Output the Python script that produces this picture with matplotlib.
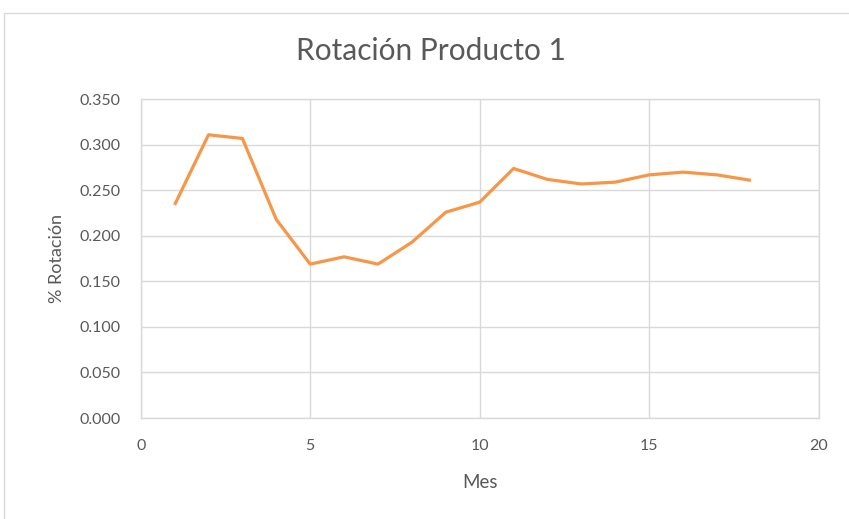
import matplotlib
matplotlib.use("Agg")
import matplotlib.pyplot as plt
from matplotlib.patches import Rectangle
from matplotlib.ticker import FormatStrFormatter, MultipleLocator

# Monthly rotation for product 1
meses = [1, 2, 3, 4, 5, 6, 7, 8, 9, 10, 11, 12, 13, 14, 15, 16, 17, 18]
rotacion = [0.234, 0.311, 0.307, 0.218, 0.169, 0.177, 0.169, 0.193, 0.226,
            0.237, 0.274, 0.262, 0.257, 0.259, 0.267, 0.270, 0.267, 0.261]

titulo = "Rotación Producto 1"
etiqueta_x = "Mes"
etiqueta_y = "% Rotación"

plt.rcParams["font.family"] = ["Lato", "DejaVu Sans"]
texto = "#595959"
rejilla = "#D9D9D9"

fig = plt.figure(figsize=(8.49, 5.19), dpi=100)
fig.patch.set_facecolor("white")

# chart frame
fig.patches.append(Rectangle((4 / 849, -0.05), 1.0, 1 - 12.5 / 519 + 0.05,
                             transform=fig.transFigure, fill=False,
                             edgecolor="#D9D9D9", linewidth=1.0))

ax = fig.add_axes([140.7 / 849, 1 - 418 / 519, (818.7 - 140.7) / 849,
                   (418 - 99.3) / 519])
ax.plot(meses, rotacion, color="#F79646", linewidth=2.3, solid_joinstyle="round",
        solid_capstyle="butt", zorder=3)

ax.set_xlim(0, 20)
ax.set_ylim(0, 0.35)
ax.xaxis.set_major_locator(MultipleLocator(5))
ax.yaxis.set_major_locator(MultipleLocator(0.05))
ax.yaxis.set_major_formatter(FormatStrFormatter("%.3f"))
ax.grid(True, color=rejilla, linewidth=1.0)
ax.set_axisbelow(True)
for s in ax.spines.values():
    s.set_color(rejilla)
    s.set_linewidth(1.0)
ax.tick_params(length=0, colors=texto, labelsize=11.5)
ax.tick_params(axis="x", pad=15)
ax.tick_params(axis="y", pad=14.5)

ax.set_xlabel(etiqueta_x, fontsize=13.5, color=texto, labelpad=15)
ax.set_ylabel(etiqueta_y, fontsize=13, color=texto, labelpad=10)

fig.text(431 / 849, 1 - 51 / 519, titulo, ha="center", va="center",
         fontsize=21.5, color=texto)

fig.savefig("out.png", dpi=100)
